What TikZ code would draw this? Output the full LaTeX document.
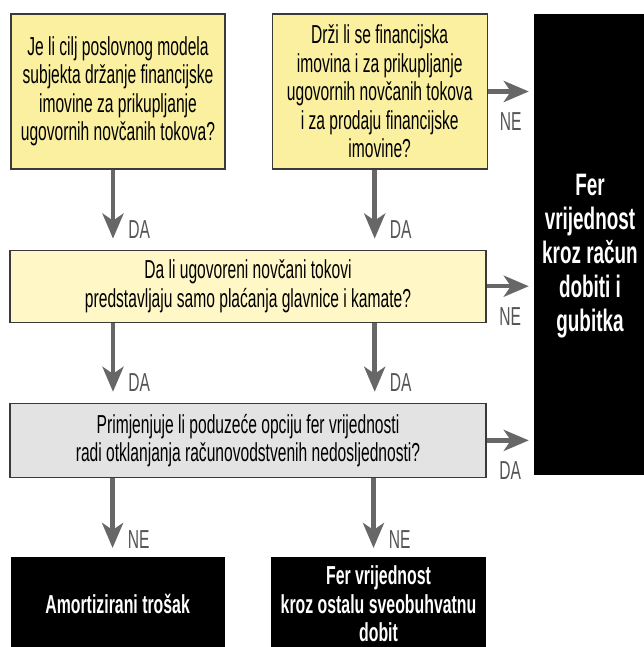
\documentclass[tikz,border=0pt]{standalone}
\usepackage{fontspec}
\setmainfont{Liberation Sans}[FakeStretch=0.6]
\newfontfamily\resultfont{Liberation Sans}[FakeStretch=0.61]
\usepackage{tikz}
\usetikzlibrary{arrows.meta, positioning}
\usepackage{xcolor}
\definecolor{qyellow}{HTML}{FBF0A0}
\definecolor{qcream}{HTML}{FFF8C6}
\definecolor{qgrey}{HTML}{E3E3E3}
\definecolor{edgegrey}{HTML}{3A3A3A}
\definecolor{arrowgrey}{HTML}{676767}
\definecolor{labelgrey}{HTML}{555555}

\begin{document}
\begin{tikzpicture}[
    x=1pt, y=1pt,
    question/.style={
        draw=edgegrey,
        line width=1.2pt,
        rectangle,
        align=center,
        inner sep=0pt,
        font=\fontsize{26}{28.5}\selectfont
    },
    result/.style={
        fill=black,
        rectangle,
        align=center,
        inner sep=0pt,
        text=white,
        font=\resultfont\bfseries\fontsize{26}{28.5}\selectfont
    },
    arrow/.style={-{Stealth[length=25pt, width=21pt, inset=7pt]}, line width=4.5pt, draw=arrowgrey},
    answer/.style={inner sep=0pt, text=labelgrey, font=\fontsize{26}{28}\selectfont}
]
\useasboundingbox (0,0) rectangle (644,-647);

% ---------- TOP ROW
\node[question, fill=qyellow, minimum width=214pt, minimum height=155pt] (goal) at (118,-91.5)
    {Je li cilj poslovnog modela\\subjekta držanje financijske\\imovine za prikupljanje\\ugovornih novčanih tokova?};
\node[question, fill=qyellow, minimum width=215pt, minimum height=155pt] (hold) [right=46pt of goal]
    {Drži li se financijska\\imovina i za prikupljanje\\ugovornih novčanih tokova\\i za prodaju financijske\\imovine?};
\node[result, minimum width=112pt, minimum height=461pt,
    label={[text=white, align=center, yshift=-12pt, font=\resultfont\bfseries\fontsize{31}{34}\selectfont]center:Fer\\vrijednost\\kroz račun\\dobiti i\\gubitka}]
    (fvpl) [below right=0pt and 46pt of hold.north east] {};

% ---------- MIDDLE ROWS
\node[question, fill=qcream, minimum width=476pt, minimum height=72pt] (sppi) [below right=80pt and -1pt of goal.south west]
    {Da li ugovoreni novčani tokovi\\predstavljaju samo plaćanja glavnice i kamate?};
\node[question, fill=qgrey, minimum width=476pt, minimum height=74pt] (option) [below=80pt of sppi]
    {Primjenjuje li poduzeće opciju fer vrijednosti\\radi otklanjanja računovodstvenih nedosljednosti?};

% ---------- BOTTOM ROW
\node[result, minimum width=214pt, minimum height=93pt] (amort) [below right=79pt and 1pt of option.south west]
    {Amortizirani trošak};
\node[result, minimum width=215pt, minimum height=93pt] (fvoci) [right=46pt of amort]
    {Fer vrijednost\\kroz ostalu sveobuhvatnu\\dobit};

% ---------- DOWN FLOW
\draw[arrow, shorten >=11pt] ([xshift=-5pt]goal.south) -- ([xshift=-5pt]goal.south |- sppi.north)
    node[answer, pos=1, anchor=base west, xshift=13pt, yshift=11pt] {DA};
\draw[arrow, shorten >=11pt] ([xshift=-5pt]hold.south) -- ([xshift=-5pt]hold.south |- sppi.north)
    node[answer, pos=1, anchor=base west, xshift=13pt, yshift=11pt] {DA};
\draw[arrow, shorten >=11pt] ([xshift=-5pt]sppi.south -| goal) -- ([xshift=-5pt]option.north -| goal)
    node[answer, pos=1, anchor=base west, xshift=13pt, yshift=11pt] {DA};
\draw[arrow, shorten >=11pt] ([xshift=-5pt]sppi.south -| hold) -- ([xshift=-5pt]option.north -| hold)
    node[answer, pos=1, anchor=base west, xshift=13pt, yshift=11pt] {DA};
\draw[arrow, shorten >=9pt] ([xshift=-5pt]option.south -| amort) -- ([xshift=-5pt]amort.north)
    node[answer, pos=1, anchor=base west, xshift=13pt, yshift=9pt] {NE};
\draw[arrow, shorten >=9pt] ([xshift=-5pt]option.south -| fvoci) -- ([xshift=-5pt]fvoci.north)
    node[answer, pos=1, anchor=base west, xshift=13pt, yshift=9pt] {NE};

% ---------- RIGHT FLOW
\draw[arrow, shorten >=5pt] (hold.east) -- (hold.east -| fvpl.west)
    node[answer, midway, anchor=north, yshift=-19pt] {NE};
\draw[arrow, shorten >=5pt] (sppi.east) -- (sppi.east -| fvpl.west)
    node[answer, midway, anchor=north, yshift=-19pt] {NE};
\draw[arrow, shorten >=5pt] (option.east) -- (option.east -| fvpl.west)
    node[answer, midway, anchor=north, yshift=-19pt] {DA};

\end{tikzpicture}
\end{document}
